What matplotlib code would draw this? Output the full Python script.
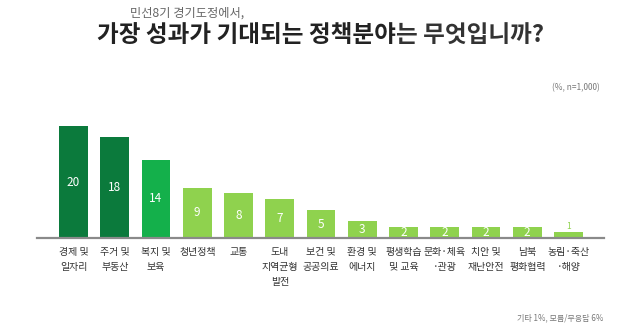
import numpy as np
import matplotlib.pyplot as plt

plt.rcParams['font.family'] = ['Noto Sans CJK KR', 'DejaVu Sans']

# 정책분야별 응답 비율 (%)
categories = ['경제 및\n일자리', '주거 및\n부동산', '복지 및\n보육', '청년정책', '교통',
              '도내\n지역균형\n발전', '보건 및\n공공의료', '환경 및\n에너지', '평생학습\n및 교육',
              '문화·체육\n·관광', '치안 및\n재난안전', '남북\n평화협력', '농림·축산\n·해양']
values = [20, 18, 14, 9, 8, 7, 5, 3, 2, 2, 2, 2, 1]
# 막대 색 그룹: 0=진녹색, 1=녹색, 2=연두
groups = [0, 0, 1, 2, 2, 2, 2, 2, 2, 2, 2, 2, 2]
palette = ['#0b7a3c', '#14b04b', '#8fd24e']

W, H = 640, 329
fig = plt.figure(figsize=(W / 100, H / 100), dpi=100)

# 축 영역 (픽셀 기준으로 위치 잡기)
x0, x1 = 37, 604
base_y = 238
ax = fig.add_axes([x0 / W, (H - base_y) / H, (x1 - x0) / W, 123 / H])
step = 41.25
first = 73.5
ax.set_xlim((x0 - first) / step, (x1 - first) / step)
ax.set_ylim(0, 22)

x = np.arange(len(values))
colors = [palette[g] for g in groups]
bars = ax.bar(x, values, width=0.70, color=colors, zorder=2)

for xi, v, c in zip(x, values, colors):
    if v >= 2:
        ax.text(xi, v / 2, str(v), ha='center', va='center', fontsize=8.5,
                color='white', zorder=3)
    else:
        ax.text(xi, v + 0.3, str(v), ha='center', va='bottom', fontsize=6,
                color=palette[2], zorder=3)

for xi, lab in zip(x, categories):
    ax.text(xi, -1.6, lab, ha='center', va='top', fontsize=7.2, color='#333333',
            linespacing=1.6)

for s in ['top', 'right', 'left']:
    ax.spines[s].set_visible(False)
ax.spines['bottom'].set_color('#8a8a8a')
ax.spines['bottom'].set_linewidth(1.6)
ax.set_xticks([])
ax.set_yticks([])
ax.patch.set_alpha(0)

# 제목
fig.text(130 / W, 1 - 13 / H, '민선8기 경기도정에서,', fontsize=8.8, color='#666666',
         va='center', ha='left')
t1 = fig.text(97 / W, 1 - 35 / H, '가장 성과가 기대되는 정책분야', fontsize=17,
              fontweight='bold', color='#222222', va='center', ha='left')
fig.canvas.draw()
bb = t1.get_window_extent()
fig.text(bb.x1 / W, 1 - 35 / H, '는 무엇입니까?', fontsize=17, fontweight='bold',
         color='#333333', va='center', ha='left')

fig.text(600 / W, 1 - 88 / H, '(%, n=1,000)', fontsize=6, color='#777777',
         ha='right', va='center')
fig.text(603 / W, 1 - 318 / H, '기타 1%, 모름/무응답 6%', fontsize=5.8, color='#777777',
         ha='right', va='center')

fig.savefig('out.png', dpi=100, facecolor='white')
